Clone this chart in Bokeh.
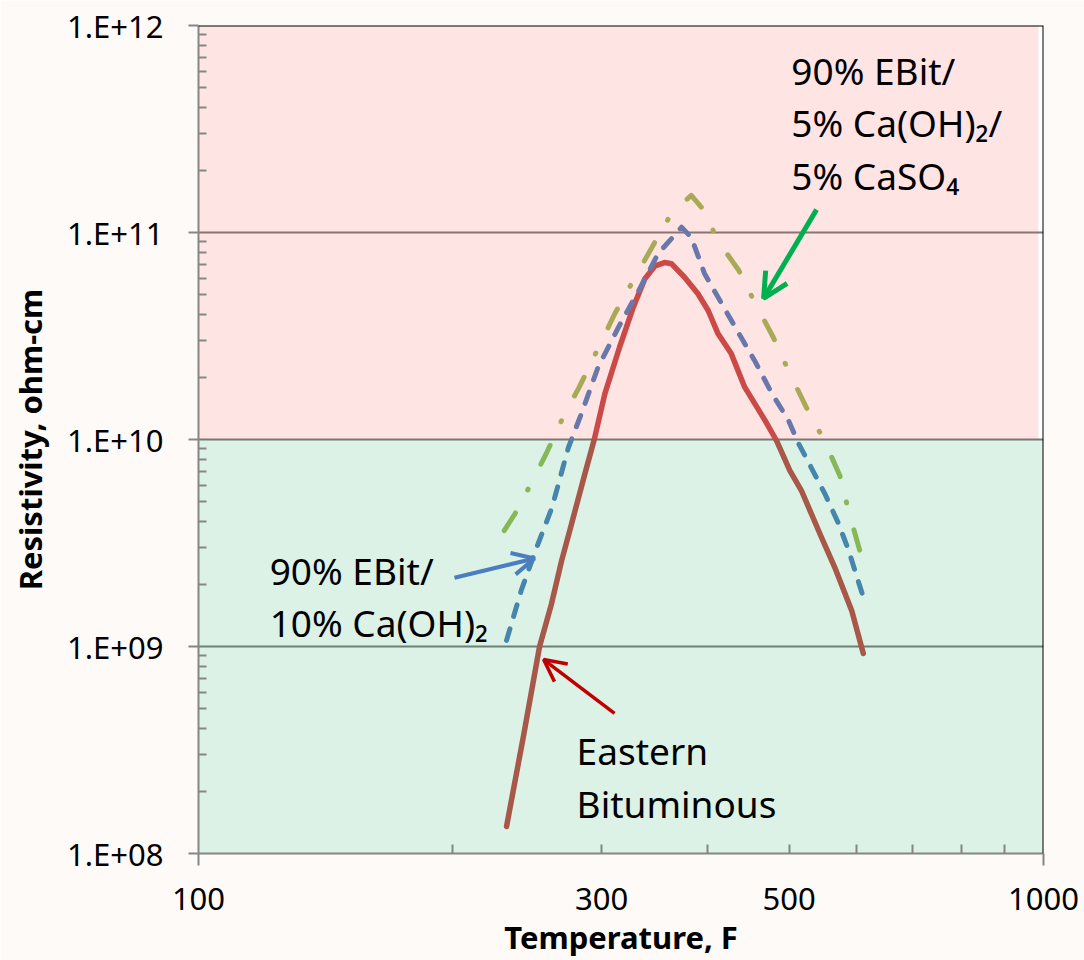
from bokeh.plotting import figure
from bokeh.models import FixedTicker, Label, Arrow, OpenHead, Span, Range1d, LogAxis
from bokeh.embed import file_html
from bokeh.resources import INLINE

# ---- data ----
eb_temp = [231.5, 242.5, 253.3, 261.7, 269, 276.4, 286.6, 294, 302.6, 315, 327, 337.5,
           347, 356, 363, 376, 390, 401, 412, 427, 443, 468, 483, 501, 517, 546, 566, 593, 612]
eb_res = [1.35e8, 3.72e8, 1.0e9, 1.61e9, 2.6e9, 3.92e9, 6.83e9, 1.0e10, 1.66e10, 2.79e10,
          4.36e10, 5.98e10, 6.9e10, 7.16e10, 7.06e10, 6.08e10, 5.06e10, 4.2e10, 3.24e10, 2.6e10,
          1.79e10, 1.24e10, 9.89e9, 7.08e9, 5.67e9, 3.37e9, 2.42e9, 1.49e9, 9.25e8]

caoh_temp = [231.5, 241, 251, 262, 274, 284, 297, 314, 332, 350, 373, 383, 397, 416,
             436, 455, 477, 499, 513, 531, 551, 572, 588, 612]
caoh_res = [1.07e9, 1.87e9, 2.97e9, 4.69e9, 9.15e9, 1.34e10, 2.23e10, 3.48e10, 5.25e10,
            7.92e10, 1.06e11, 9.46e10, 6.34e10, 4.54e10, 3.25e10, 2.41e10, 1.67e10,
            1.24e10, 9.57e9, 7.32e9, 5.48e9, 3.93e9, 2.91e9, 1.73e9]

caso_temp = [230, 237, 246.5, 258, 270, 282, 297, 311, 327, 344, 363, 383, 399, 410,
             436, 456, 479, 501, 524, 551, 574, 589, 609]
caso_res = [3.63e9, 4.39e9, 5.93e9, 8.56e9, 1.28e10, 1.78e10, 2.75e10, 4.06e10, 5.86e10,
            8.47e10, 1.24e11, 1.51e11, 1.24e11, 9.35e10, 6.55e10, 4.54e10, 3.11e10,
            2.08e10, 1.43e10, 9.78e9, 6.7e9, 4.39e9, 2.72e9]

x_major = [100, 1000]
x_minor = [200, 300, 400, 500, 600, 700, 800, 900]
x_label_ticks = [100, 300, 500, 1000]
x_label_texts = ["100", "300", "500", "1000"]
y_major = [1e8, 1e9, 1e10, 1e11, 1e12]
y_major_labels = ["1.E+08", "1.E+09", "1.E+10", "1.E+11", "1.E+12"]
y_minor = [k * 10.0 ** e for e in range(8, 12) for k in range(2, 10)]

FONT = "Noto Sans"

p = figure(width=1084, height=960, x_axis_type="log", y_axis_type="log",
           x_range=Range1d(100, 1000), y_range=Range1d(1e8, 1e12),
           output_backend="svg", toolbar_location=None,
           min_border_left=198, min_border_right=41, min_border_top=25,
           min_border_bottom=107)
p.background_fill_color = "white"
p.border_fill_color = "#FDFAF7"
p.outline_line_color = None

# grid
p.xgrid.visible = False
p.ygrid.grid_line_color = "#7A7A7A"
p.ygrid.grid_line_width = 2
p.ygrid.minor_grid_line_color = None

# curves
p.line(eb_temp, eb_res, line_color="#C24A47", line_width=5.5,
       line_cap="round", line_join="round")
p.line(caso_temp, caso_res, line_color="#9BBB59", line_width=5,
       line_dash="21 26 1 28", line_cap="round", line_join="round")
p.line(caoh_temp, caoh_res, line_color="#4F81BD", line_width=5,
       line_dash="12 13", line_cap="round", line_join="round")

# translucent zones (tint the curves beneath, like the reference)
p.quad(left=[100], right=[986], bottom=[1e10], top=[1e12],
       fill_color="#FF4B4B", fill_alpha=0.15, line_color=None)
p.quad(left=[100], right=[1000], bottom=[1e8], top=[1e10],
       fill_color="#16A858", fill_alpha=0.15, line_color=None)

# borders top/right
p.add_layout(Span(location=1e12, dimension="width", line_color="black", line_width=2))
p.add_layout(Span(location=1000, dimension="height", line_color="black", line_width=2))

AX = "#868686"

# x axis 1: line and ticks only (labels invisible)
xa = p.xaxis[0]
xa.ticker = FixedTicker(ticks=x_major, minor_ticks=x_minor)
xa.axis_line_color = AX
xa.axis_line_width = 2
xa.major_tick_line_color = AX
xa.major_tick_line_width = 2
xa.minor_tick_line_color = AX
xa.minor_tick_line_width = 2
xa.major_tick_out = 12
xa.major_tick_in = 0
xa.minor_tick_in = 9
xa.minor_tick_out = 0
xa.major_label_text_font_size = "1px"
xa.major_label_text_alpha = 0
xa.major_label_standoff = 0

# x axis 2: tick labels and title
xb = LogAxis(ticker=FixedTicker(ticks=x_label_ticks, minor_ticks=[200]))
xb.major_label_overrides = {t: s for t, s in zip(x_label_ticks, x_label_texts)}
xb.axis_line_color = None
xb.major_tick_line_color = None
xb.minor_tick_line_color = None
xb.major_tick_out = 0
xb.major_tick_in = 0
xb.minor_tick_out = 0
xb.minor_tick_in = 0
xb.major_label_text_font = FONT
xb.major_label_text_font_size = "31px"
xb.major_label_text_color = "black"
xb.major_label_standoff = 22
xb.axis_label = "Temperature, F"
xb.axis_label_text_font = FONT
xb.axis_label_text_font_size = "31px"
xb.axis_label_text_font_style = "bold"
xb.axis_label_text_color = "black"
xb.axis_label_standoff = 3
p.add_layout(xb, "below")

ya = p.yaxis[0]
ya.ticker = FixedTicker(ticks=y_major, minor_ticks=y_minor)
ya.major_label_overrides = {t: s for t, s in zip(y_major, y_major_labels)}
ya.axis_line_color = AX
ya.axis_line_width = 2
ya.major_tick_line_color = AX
ya.major_tick_line_width = 2
ya.minor_tick_line_color = AX
ya.minor_tick_line_width = 2
ya.major_tick_out = 10
ya.major_tick_in = 0
ya.minor_tick_in = 8
ya.minor_tick_out = 0
ya.major_label_text_font = FONT
ya.major_label_text_font_size = "31px"
ya.major_label_text_color = "black"
ya.major_label_standoff = 25
ya.axis_label = "Resistivity, ohm-cm"
ya.axis_label_text_font = FONT
ya.axis_label_text_font_size = "31px"
ya.axis_label_text_font_style = "bold"
ya.axis_label_text_color = "black"
ya.axis_label_standoff = 13

# annotation texts
def txt(x, y, s, color="black", size="37px"):
    p.add_layout(Label(x=x, y=y, text=s, text_align="left", text_baseline="alphabetic",
                       text_font=FONT, text_font_size=size, text_color=color))

txt(503, 6.06e11, "90% EBit/")
txt(503, 3.4e11, "5% Ca(OH)₂/")
txt(503, 1.885e11, "5% CaSO₄")
txt(121.4, 2.33e9, "90% EBit/")
txt(121.4, 1.31e9, "10% Ca(OH)₂")
txt(280.2, 3.15e8, "Eastern")
txt(280.2, 1.75e8, "Bituminous")

# arrows
p.add_layout(Arrow(x_start=200.9, y_start=2.15e9, x_end=249.8, y_end=2.66e9,
                   line_color="#4A7EC0", line_width=4,
                   end=OpenHead(size=22, line_color="#4A7EC0", line_width=4)))
p.add_layout(Arrow(x_start=310.7, y_start=4.75e8, x_end=256.1, y_end=8.65e8,
                   line_color="#C00000", line_width=3.5,
                   end=OpenHead(size=22, line_color="#C00000", line_width=3.5)))
p.add_layout(Arrow(x_start=538.8, y_start=1.29e11, x_end=466.4, y_end=4.8e10,
                   line_color="#00B050", line_width=5,
                   end=OpenHead(size=25, line_color="#00B050", line_width=5)))

open("out.html", "w").write(file_html(p, INLINE))
